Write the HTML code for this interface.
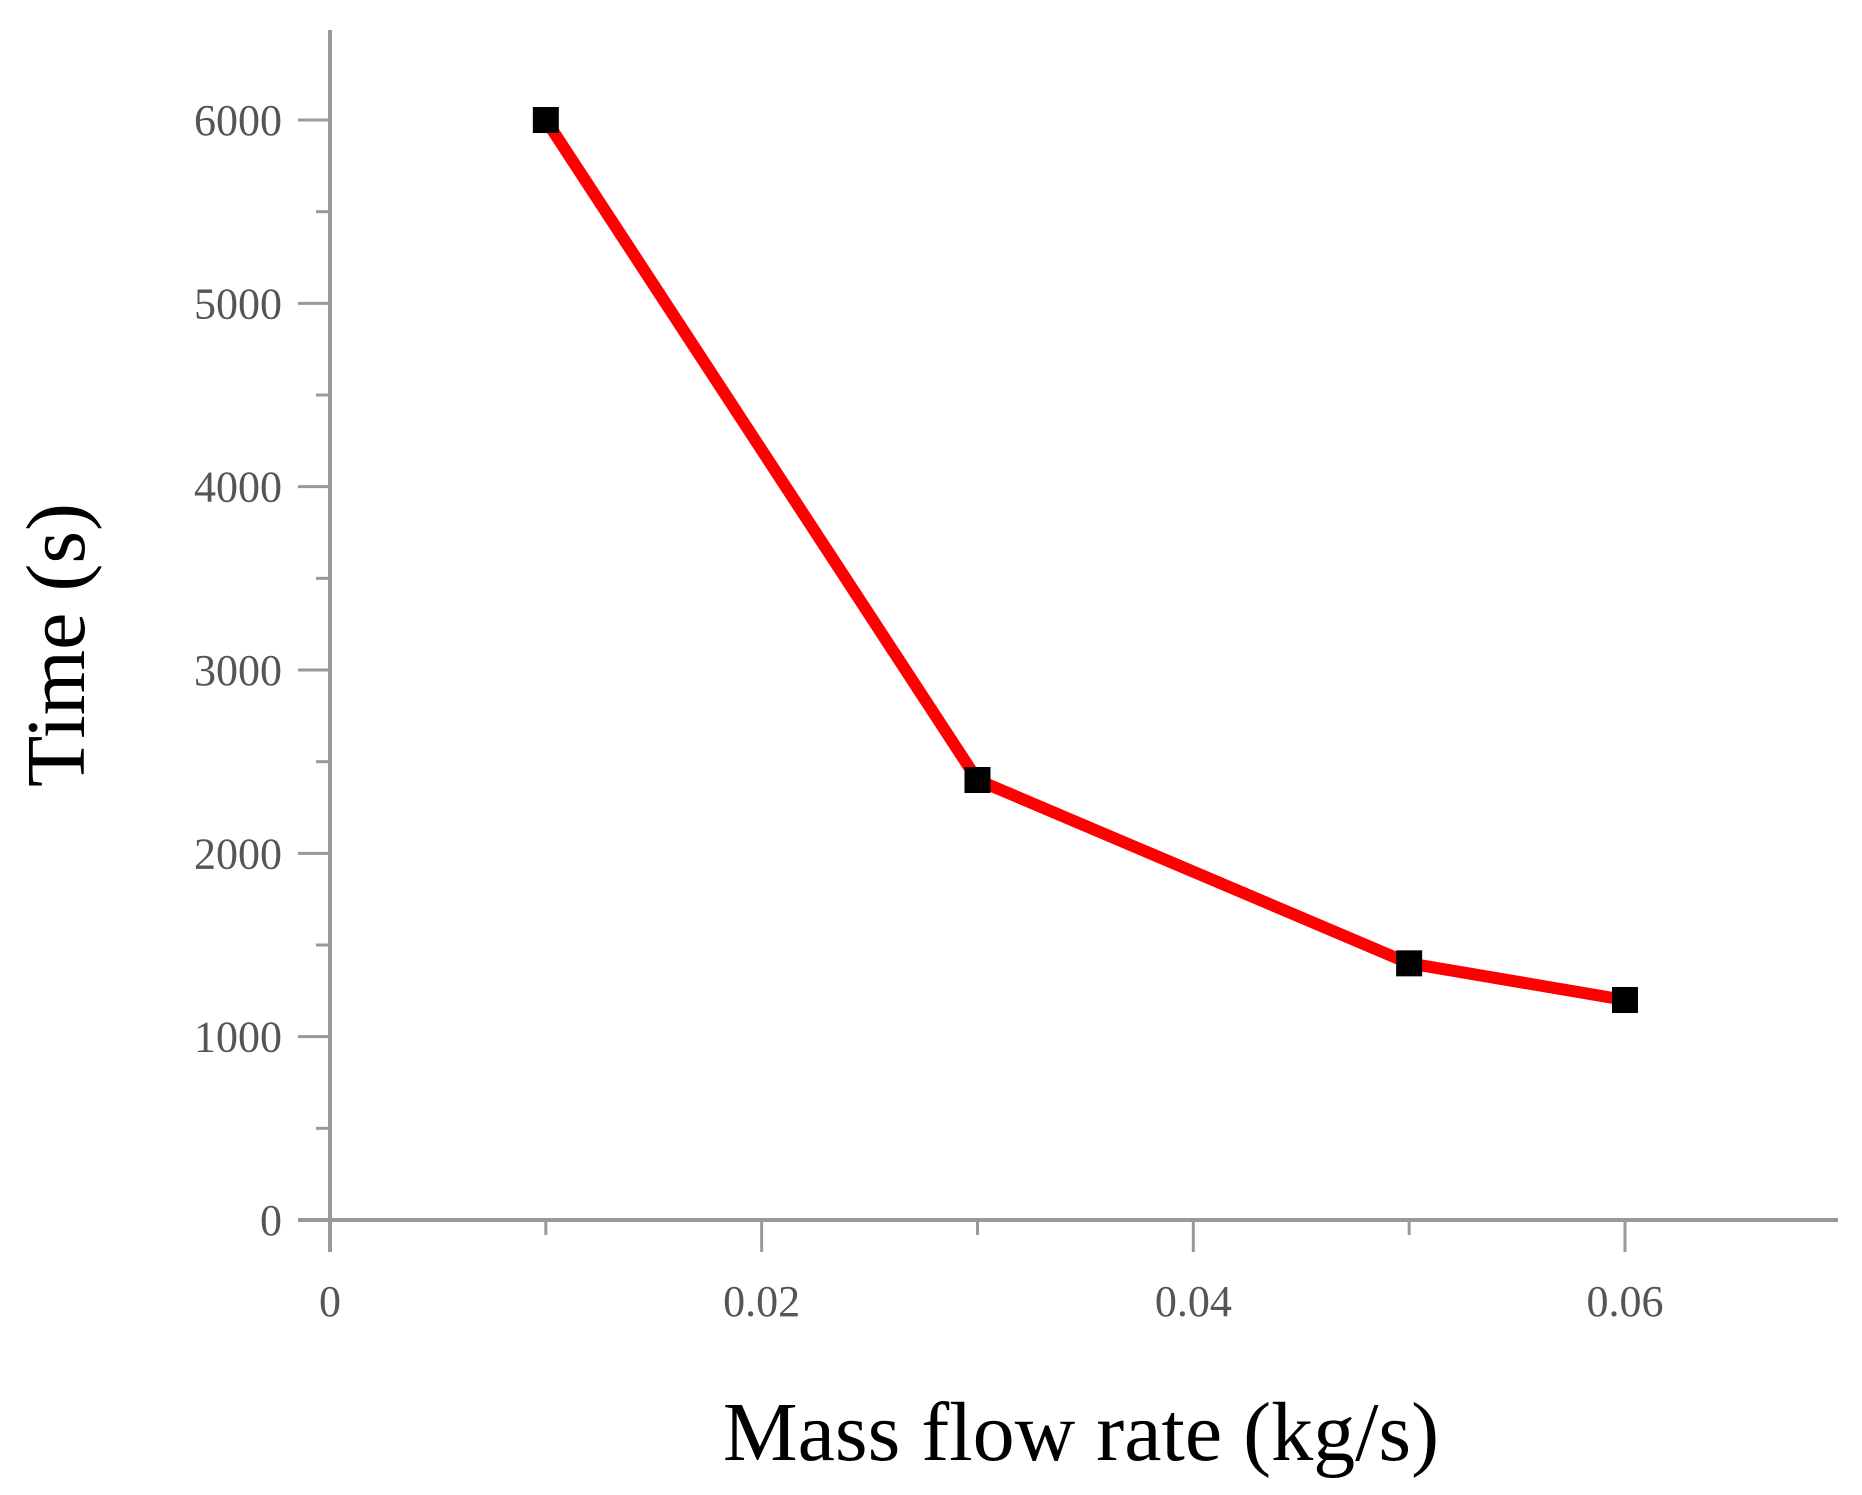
<!DOCTYPE html>
<html><head><meta charset="utf-8"><style>
html,body{margin:0;padding:0;background:#fff;}
svg{display:block;font-family:"Liberation Serif",serif;}
</style></head><body>
<svg id="chart" width="1862" height="1495" viewBox="0 0 1862 1495" xmlns="http://www.w3.org/2000/svg">
<g id="axes"></g>
<g id="series"></g>
<text x="0" y="0" transform="translate(84,645) rotate(-90)" text-anchor="middle" font-size="84" fill="#000">Time (s)</text>
<text x="1081" y="1460" text-anchor="middle" font-size="84" fill="#000">Mass flow rate (kg/s)</text>
</svg>
<script>
const xValues = [0.01, 0.03, 0.05, 0.06];
const yValues = [6000, 2400, 1400, 1200];
const xTicks = [0, 0.02, 0.04, 0.06];
const xTickLabels = ["0", "0.02", "0.04", "0.06"];
const xMinorTicks = [0.01, 0.03, 0.05];
const yTicks = [0, 1000, 2000, 3000, 4000, 5000, 6000];
const yTickLabels = ["0", "1000", "2000", "3000", "4000", "5000", "6000"];
const yMinorTicks = [500, 1500, 2500, 3500, 4500, 5500];

const NS = "http://www.w3.org/2000/svg";
const X0 = 330, Y0 = 1220;
const sx = v => X0 + v * 21583;
const sy = v => Y0 - v * 0.18333;
const axes = document.getElementById('axes');
const series = document.getElementById('series');
function mk(tag, attrs, parent) {
  const e = document.createElementNS(NS, tag);
  for (const k in attrs) e.setAttribute(k, attrs[k]);
  parent.appendChild(e);
  return e;
}
const AX = "#999";
let e;
e = mk('line', {x1: X0, y1: 30, x2: X0, y2: 1252, stroke: AX, 'stroke-width': 4}, axes);


e = mk('line', {x1: 298, y1: Y0, x2: 1838, y2: Y0, stroke: AX, 'stroke-width': 4}, axes);


xTicks.forEach((v, i) => {
  const t = mk('line', {x1: sx(v), y1: Y0, x2: sx(v), y2: Y0 + 32, stroke: AX, 'stroke-width': 3}, axes);
  
  
  const l = mk('text', {x: sx(v), y: Y0 + 96, 'text-anchor': 'middle', 'font-size': 44, fill: '#555'}, axes);
  l.textContent = xTickLabels[i];
  
  
});
xMinorTicks.forEach(v => {
  const t = mk('line', {x1: sx(v), y1: Y0, x2: sx(v), y2: Y0 + 15, stroke: AX, 'stroke-width': 3}, axes);
  
  
});
yTicks.forEach((v, i) => {
  const t = mk('line', {x1: 298, y1: sy(v), x2: X0, y2: sy(v), stroke: AX, 'stroke-width': 3}, axes);
  
  
  const l = mk('text', {x: 282, y: sy(v) + 15, 'text-anchor': 'end', 'font-size': 44, fill: '#555'}, axes);
  l.textContent = yTickLabels[i];
  
  
});
yMinorTicks.forEach(v => {
  const t = mk('line', {x1: 316, y1: sy(v), x2: X0, y2: sy(v), stroke: AX, 'stroke-width': 3}, axes);
  
  
});
const pts = xValues.map((x, i) => sx(x) + ',' + sy(yValues[i])).join(' ');
const line = mk('polyline', {points: pts, fill: 'none', stroke: '#ff0000', 'stroke-width': 12, 'stroke-linejoin': 'round'}, series);


xValues.forEach((x, i) => {
  const m = mk('rect', {x: sx(x) - 13, y: sy(yValues[i]) - 13, width: 26, height: 26, fill: '#000'}, series);
  
  
});
</script>
</body></html>
